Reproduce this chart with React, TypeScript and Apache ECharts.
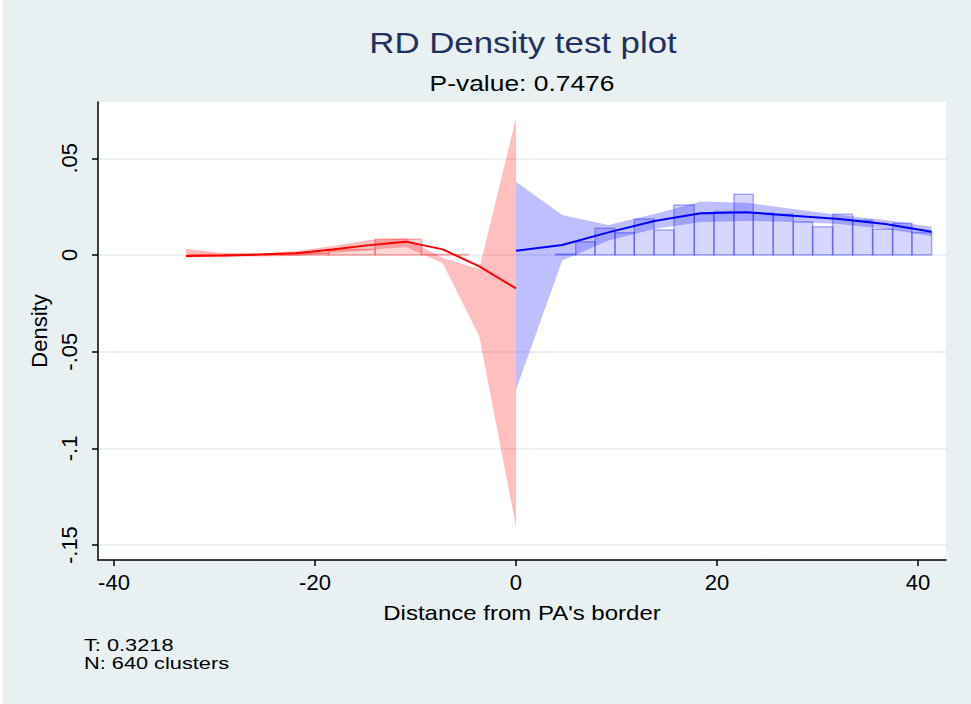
import React, { useEffect, useRef } from 'react';
import * as echarts from 'echarts';

// Left (red) side: evaluation points, density fit and confidence band
const redX = [-32.84, -29.18, -25.54, -21.89, -18.24, -14.6, -10.95, -7.29, -3.65, 0];
const redFit = [-0.0005, -0.0002, 0.0002, 0.0009, 0.0028, 0.0051, 0.0069, 0.0029, -0.0059, -0.0173];
const redUpper = [0.0031, 0.001, 0.0008, 0.0021, 0.0047, 0.0078, 0.0085, -0.0016, -0.0072, 0.0707];
const redLower = [-0.0013, -0.001, -0.0008, -0.0005, 0.001, 0.0026, 0.0041, -0.0043, -0.0422, -0.1405];

// Right (blue) side
const blueX = [0, 4.6, 9.19, 13.79, 18.38, 22.98, 27.57, 32.17, 36.76, 41.36];
const blueFit = [0.0022, 0.0052, 0.0117, 0.0176, 0.0216, 0.0221, 0.0203, 0.0186, 0.016, 0.012];
const blueUpper = [0.0379, 0.0207, 0.0155, 0.0212, 0.0276, 0.027, 0.0238, 0.0207, 0.0181, 0.0146];
const blueLower = [-0.0698, -0.0029, 0.0075, 0.0134, 0.0171, 0.0176, 0.0171, 0.016, 0.0134, 0.0098];

// Histograms
const redBinEdges = [-32.54, -27.91, -23.28, -18.66, -14.03, -9.4, -4.78];
const redBinHeights = [0.0002, 0.0004, 0.0009, 0.0029, 0.0081, 0.0002];
const blueBinEdges = [3.95, 5.94, 7.86, 9.85, 11.77, 13.73, 15.72, 17.74, 19.7, 21.69, 23.61, 25.6, 27.59, 29.52, 31.51, 33.5, 35.49, 37.48, 39.4, 41.36];
const blueBinHeights = [0.0005, 0.0069, 0.0138, 0.0115, 0.0186, 0.0129, 0.0259, 0.0213, 0.0225, 0.0314, 0.0217, 0.0211, 0.017, 0.0146, 0.021, 0.0179, 0.0133, 0.0164, 0.0116];

// Axes
const xTickValues = [-40, -20, 0, 20, 40];
const yTickValues = [-0.15, -0.1, -0.05, 0, 0.05];
const yTickLabels = ['-.15', '-.1', '-.05', '0', '.05'];

const titleText = 'RD Density test plot';
const subtitleText = 'P-value: 0.7476';
const xName = "Distance from PA's border";
const yName = 'Density';
const notes = ['T: 0.3218', 'N: 640 clusters'];

const FONT = '"Liberation Sans", Arial, Helvetica, sans-serif';

export default function App() {
  const ref = useRef<HTMLDivElement>(null);

  useEffect(() => {
    const chart = echarts.init(ref.current as HTMLDivElement, null, { renderer: 'svg' });

    const bandSeries = (xs: number[], up: number[], lo: number[], color: string) => ({
      type: 'custom',
      coordinateSystem: 'cartesian2d',
      data: [[0, 0]],
      encode: { x: 0, y: 1 },
      z: 3,
      silent: true,
      renderItem: (_params: any, api: any) => {
        const pts: number[][] = [];
        xs.forEach((x, i) => pts.push(api.coord([x, up[i]])));
        for (let i = xs.length - 1; i >= 0; i--) pts.push(api.coord([xs[i], lo[i]]));
        return { type: 'polygon', shape: { points: pts }, style: { fill: color } };
      },
    });

    const histSeries = (edges: number[], heights: number[], fill: string, stroke: string) => ({
      type: 'custom',
      coordinateSystem: 'cartesian2d',
      data: heights.map((h, i) => [edges[i], edges[i + 1], h]),
      encode: { x: [0, 1], y: 2 },
      z: 2,
      silent: true,
      renderItem: (_params: any, api: any) => {
        const p0 = api.coord([api.value(0), api.value(2)]);
        const p1 = api.coord([api.value(1), 0]);
        return {
          type: 'rect',
          shape: { x: p0[0], y: p0[1], width: p1[0] - p0[0], height: p1[1] - p0[1] },
          style: { fill, stroke, lineWidth: 1.5 },
        };
      },
    });

    const lineSeries = (xs: number[], ys: number[], color: string) => ({
      type: 'line',
      data: xs.map((x, i) => [x, ys[i]]),
      symbol: 'none',
      z: 5,
      silent: true,
      lineStyle: { color, width: 2 },
    });

    chart.setOption({
      animation: false,
      backgroundColor: '#e8f0f2',
      grid: {
        left: 98,
        right: 25,
        top: 102,
        bottom: 144,
        show: true,
        backgroundColor: '#ffffff',
        borderWidth: 0,
      },
      xAxis: {
        type: 'value',
        min: -41.59,
        max: 42.79,
        axisLine: { onZero: false, lineStyle: { color: '#000', width: 1.5 } },
        axisTick: { show: true, length: 6, customValues: xTickValues, lineStyle: { color: '#000', width: 1.5 } },
        axisLabel: {
          customValues: xTickValues,
          formatter: (v: number) => String(v),
          fontFamily: FONT,
          fontSize: 22,
          color: '#000',
          margin: 11,
        },
        splitLine: { show: false },
      },
      yAxis: {
        type: 'value',
        min: -0.1577,
        max: 0.0791,
        axisLine: { show: true, onZero: false, lineStyle: { color: '#000', width: 1.5 } },
        axisTick: { show: true, length: 6, customValues: yTickValues, lineStyle: { color: '#000', width: 1.5 } },
        axisLabel: {
          customValues: yTickValues,
          rotate: 90,
          formatter: (v: number) => {
            let best = 0;
            yTickValues.forEach((t, i) => {
              if (Math.abs(t - v) < Math.abs(yTickValues[best] - v)) best = i;
            });
            return yTickLabels[best];
          },
          fontFamily: FONT,
          fontSize: 22,
          color: '#000',
          margin: 18,
        },
        splitLine: { show: true, lineStyle: { color: '#e4ecef', width: 1.5 } },
        name: yName,
        nameLocation: 'middle',
        nameGap: 35,
        nameTextStyle: { fontFamily: FONT, fontSize: 22, color: '#000' },
      },
      graphic: [
        { type: 'rect', shape: { x: 0, y: 0, width: 3, height: 704 }, style: { fill: '#ffffff' }, silent: true },
        {
          type: 'text', x: 523, y: 43, scaleX: 1.2,
          style: { text: titleText, font: `29px ${FONT}`, fill: '#1f3160', textAlign: 'center', textVerticalAlign: 'middle' },
        },
        {
          type: 'text', x: 522, y: 83, scaleX: 1.2,
          style: { text: subtitleText, font: `22px ${FONT}`, fill: '#000', textAlign: 'center', textVerticalAlign: 'middle' },
        },
        {
          type: 'text', x: 522, y: 613, scaleX: 1.2,
          style: { text: xName, font: `20px ${FONT}`, fill: '#000', textAlign: 'center', textVerticalAlign: 'middle' },
        },
        {
          type: 'text', x: 84, y: 645, scaleX: 1.28,
          style: { text: notes[0], font: `17px ${FONT}`, fill: '#000', textAlign: 'left', textVerticalAlign: 'middle' },
        },
        {
          type: 'text', x: 84, y: 663, scaleX: 1.28,
          style: { text: notes[1], font: `17px ${FONT}`, fill: '#000', textAlign: 'left', textVerticalAlign: 'middle' },
        },
      ],
      series: [
        histSeries(redBinEdges, redBinHeights, 'rgba(255,0,0,0.16)', 'rgba(255,0,0,0.3)'),
        histSeries(blueBinEdges, blueBinHeights, 'rgba(0,0,255,0.16)', 'rgba(0,0,255,0.3)'),
        bandSeries(redX, redUpper, redLower, 'rgba(255,0,0,0.25)'),
        bandSeries(blueX, blueUpper, blueLower, 'rgba(0,0,255,0.25)'),
        lineSeries(redX, redFit, '#ff0000'),
        lineSeries(blueX, blueFit, '#0000ff'),
      ],
    });

    return () => chart.dispose();
  }, []);

  return (
    <div
      ref={ref}
      style={{ position: 'fixed', left: 0, top: 0, width: 971, height: 704 }}
    />
  );
}
